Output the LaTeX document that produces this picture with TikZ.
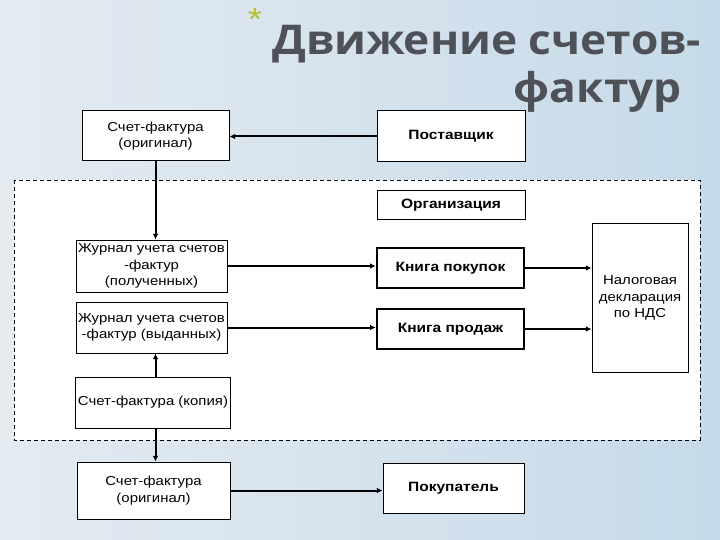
\documentclass[tikz,border=0pt]{standalone}
\usepackage{fontspec}
\setmainfont{Liberation Sans}[FakeStretch=1.15]
\newfontfamily\titlefont{Open Sans}[FakeStretch=1.08]
\usetikzlibrary{positioning,arrows.meta,backgrounds}

\definecolor{bgleft}{RGB}{228,235,241}
\definecolor{bgright}{RGB}{198,218,233}
\definecolor{titlegray}{RGB}{78,82,88}
\definecolor{staryellow}{RGB}{185,190,45}

\begin{document}
\begin{tikzpicture}[
  x=1pt,y=-1pt,
  font=\fontsize{13}{16.5}\selectfont,
  box/.style={rectangle,draw=black,line width=1pt,fill=white,align=center,inner sep=2pt},
  bbox/.style={box,font=\fontsize{13.5}{16.5}\selectfont\bfseries},
  kbox/.style={bbox,line width=2.5pt},
  arr/.style={-{Latex[length=2mm,width=2mm]},line width=2pt},
]

% ---- background and the organisation's area ----
\shade[left color=bgleft,right color=bgright] (0,0) rectangle (720,540);
\useasboundingbox (0,0) rectangle (720,540);
\draw[dash pattern=on 4pt off 3pt,line width=0.9pt,fill=white] (14,180) rectangle (700,440);

% ---- title ----
\node[text=staryellow,font=\fontsize{32}{32}\selectfont,anchor=north,inner sep=0] (star) at (255,8) {*};
\node[anchor=base west,inner sep=0,text=titlegray,
      font=\titlefont\fontsize{41}{41}\selectfont\bfseries] (title1) at (272,55) {Движение счетов-};
\node[anchor=base east,inner sep=0,text=titlegray,
      font=\titlefont\fontsize{41}{41}\selectfont\bfseries] (title2) at (682,103) {фактур};

% ---- boxes ----
\node[box,minimum width=147pt,minimum height=50pt] (orig1) at (155.5,136) {Счет-фактура\\(оригинал)};
\node[bbox,minimum width=148pt,minimum height=51pt] (post) at (451,136.5) {Поставщик};
\node[bbox,minimum width=148pt,minimum height=29pt] (org) at (451,205.5) {Организация};

\node[box,minimum width=151pt,minimum height=52pt] (jin) at (151.5,266) {Журнал учета счетов\\-фактур\\(полученных)};
\node[box,minimum width=151pt,minimum height=51pt] (jout) at (151.5,327.5) {Журнал учета счетов\\-фактур (выданных)};

\node[kbox,minimum width=147pt,minimum height=40pt] (kpok) at (450.5,268) {Книга покупок};
\node[kbox,minimum width=147pt,minimum height=40pt] (kprod) at (450.5,329) {Книга продаж};

\node[box,minimum width=96pt,minimum height=148pt] (nds) at (640,298) {Налоговая\\декларация\\по НДС};

\node[box,minimum width=152pt,minimum height=51pt] (copy) at (153,402.5) {Счет-фактура (копия)};
\node[box,minimum width=153pt,minimum height=57pt] (orig2) at (153.5,490.5) {Счет-фактура\\(оригинал)};
\node[bbox,minimum width=141pt,minimum height=50pt] (buyer) at (453.5,488) {Покупатель};

% ---- connectors ----
\draw[arr] (post.west) -- (post.west -| orig1.east);
\draw[arr] (orig1.south) -- (orig1.south |- jin.north);
\draw[arr] (jin.east) -- (jin.east -| kpok.west);
\draw[arr] (jout.east) -- (jout.east -| kprod.west);
\draw[arr] (kpok.east) -- (kpok.east -| nds.west);
\draw[arr] (kprod.east) -- (kprod.east -| nds.west);
\draw[arr] (orig1.south |- copy.north) -- (orig1.south |- jout.south);
\draw[arr] (orig1.south |- copy.south) -- (orig1.south |- orig2.north);
\draw[arr] (orig2.east) -- (orig2.east -| buyer.west);
\end{tikzpicture}
\end{document}
